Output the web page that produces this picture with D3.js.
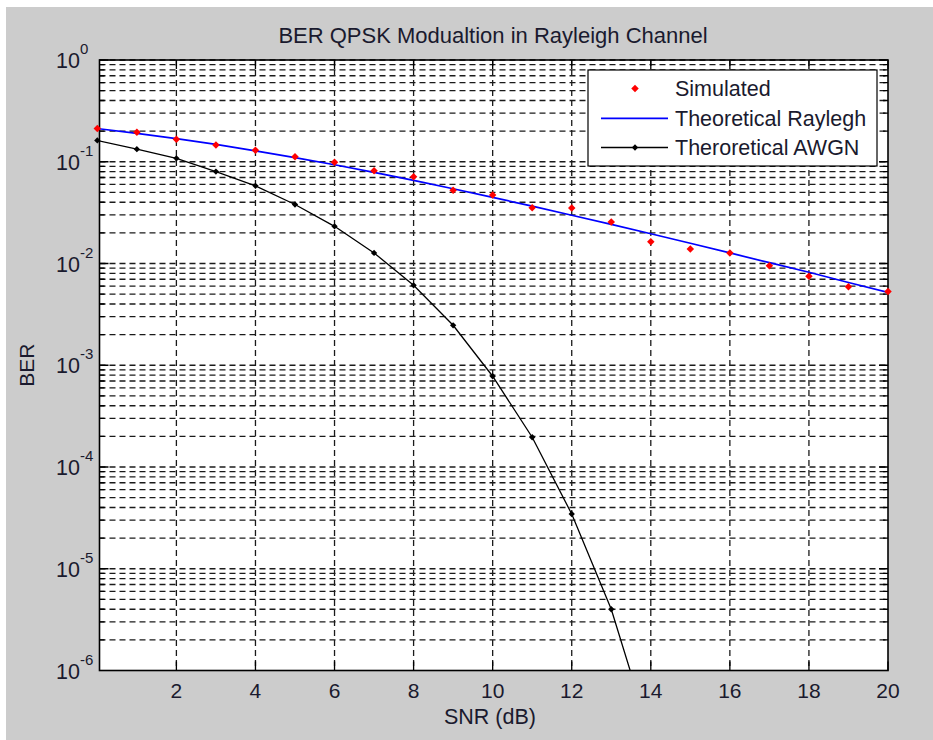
<!DOCTYPE html>
<html>
<head>
<meta charset="utf-8">
<script src="https://cdn.jsdelivr.net/npm/d3@7"></script>
<style>
  body { margin: 0; background: #fff; }
  text { font-family: "Liberation Sans", Arial, sans-serif; fill: #1a1a2e; }
</style>
</head>
<body>
<div id="ber-chart"></div>
<script>
// data
var snr = [0, 1, 2, 3, 4, 5, 6, 7, 8, 9, 10, 11, 12, 13, 14, 15, 16, 17, 18, 19, 20];
var berSimulated = [0.212, 0.195, 0.166, 0.146, 0.130, 0.112, 0.0988, 0.0817, 0.0713, 0.0524, 0.0471,
                    0.0354, 0.0351, 0.0256, 0.0164, 0.0139, 0.0127, 0.0095, 0.0075, 0.0059, 0.0053];
var berRayleigh = [0.212, 0.190, 0.169, 0.148, 0.128, 0.110, 0.0935, 0.0785, 0.0656, 0.0543, 0.0447,
                   0.0366, 0.0298, 0.0242, 0.0196, 0.0158, 0.0127, 0.0102, 0.0082, 0.0065, 0.0052];
var snrAwgn = [0, 1, 2, 3, 4, 5, 6, 7, 8, 9, 10, 11, 12, 13, 14];
var berAwgn = [0.162, 0.133, 0.108, 0.080, 0.058, 0.038, 0.0232, 0.0127, 0.0061, 0.00247,
               0.00078, 0.000196, 0.0000345, 0.0000040, 0.00000022];
var xTicks = [2, 4, 6, 8, 10, 12, 14, 16, 18, 20];
var yExponents = [0, -1, -2, -3, -4, -5, -6];
var legendNames = ["Simulated", "Theoretical Raylegh", "Theroretical AWGN"];

var width = 933, height = 740;
var margin = {top: 60, right: 45, bottom: 69.5, left: 99.5};

var svg = d3.select("#ber-chart")
  .append("svg")
  .attr("width", width)
  .attr("height", height);

// figure background
svg.append("rect").attr("width", width).attr("height", height).attr("fill", "#fff");
svg.append("rect").attr("x", 6).attr("y", 7).attr("width", width - 6).attr("height", height - 7)
  .attr("fill", "#cccccc");

var x = d3.scaleLinear()
  .domain([0.055, 20])
  .range([margin.left, width - margin.right]);

var y = d3.scaleLog()
  .domain([1e-6, 1])
  .range([height - margin.bottom, margin.top]);

var x0 = x.range()[0], x1 = x.range()[1], y0 = y.range()[1], y1 = y.range()[0];

svg.append("rect")
  .attr("x", x0).attr("y", y0)
  .attr("width", x1 - x0).attr("height", y1 - y0)
  .attr("fill", "#fff");

svg.append("clipPath").attr("id", "plot-clip")
  .append("rect")
  .attr("x", x0).attr("y", y0)
  .attr("width", x1 - x0).attr("height", y1 - y0);

// minor + major y values for the log grid
var yGrid = [];
yExponents.forEach(function(e) {
  for (var m = 1; m < 10; m++) {
    var v = m * Math.pow(10, e);
    if (v <= 1 && v > 1e-6) yGrid.push({v: v, major: m == 1});
  }
});

var grid = svg.append("g")
  .attr("stroke", "#1a1a1a")
  .attr("stroke-width", 1.3)
  .attr("stroke-dasharray", "6,4");

grid.selectAll(".hgrid")
  .data(yGrid)
  .join("line")
  .attr("class", "hgrid")
  .attr("x1", x0).attr("x2", x1)
  .attr("y1", d => y(d.v)).attr("y2", d => y(d.v));

grid.selectAll(".vgrid")
  .data(xTicks.filter(d => d < 20))
  .join("line")
  .attr("class", "vgrid")
  .attr("x1", d => x(d)).attr("x2", d => x(d))
  .attr("y1", y0).attr("y2", y1);

// ticks, inside the box on all four sides
var ticks = svg.append("g").attr("stroke", "#000").attr("stroke-width", 1.3);

ticks.selectAll(".xt")
  .data(xTicks)
  .join("path")
  .attr("class", "xt")
  .attr("d", d => `M${x(d)},${y1}v-9M${x(d)},${y0}v9`);

ticks.selectAll(".yt")
  .data(yGrid)
  .join("path")
  .attr("class", "yt")
  .attr("d", function(d) {
    var len = d.major ? 9 : 5;
    return `M${x0},${y(d.v)}h${len}M${x1},${y(d.v)}h${-len}`;
  });

svg.append("rect")
  .attr("x", x0).attr("y", y0)
  .attr("width", x1 - x0).attr("height", y1 - y0)
  .attr("fill", "none")
  .attr("stroke", "#000")
  .attr("stroke-width", 1.6);

// tick labels
svg.selectAll(".xlab")
  .data(xTicks)
  .join("text")
  .attr("class", "xlab")
  .attr("x", d => x(d))
  .attr("y", y1 + 27)
  .attr("text-anchor", "middle")
  .attr("font-size", 21)
  .text(d => d);

var ylab = svg.selectAll(".ylab")
  .data(yExponents)
  .join("text")
  .attr("class", "ylab")
  .attr("x", 56)
  .attr("y", d => y(Math.pow(10, d)) + 8)
  .attr("font-size", 21.5);
ylab.append("tspan").text("10");
ylab.append("tspan")
  .attr("dy", -14)
  .attr("font-size", 15)
  .text(d => d == 0 ? "0" : d);

// titles
svg.append("text")
  .attr("x", 493)
  .attr("y", 43)
  .attr("text-anchor", "middle")
  .attr("font-size", 22)
  .text("BER QPSK Modualtion in Rayleigh Channel");

svg.append("text")
  .attr("x", 490)
  .attr("y", 724)
  .attr("text-anchor", "middle")
  .attr("font-size", 21.5)
  .text("SNR (dB)");

svg.append("text")
  .attr("transform", `translate(34,${(y0 + y1) / 2}) rotate(-90)`)
  .attr("text-anchor", "middle")
  .attr("font-size", 21)
  .text("BER");

// series
var line = d3.line()
  .x(d => x(d[0]))
  .y(d => y(d[1]));

var plot = svg.append("g").attr("clip-path", "url(#plot-clip)");

plot.append("path")
  .datum(d3.zip(snr, berRayleigh))
  .attr("d", line)
  .attr("fill", "none")
  .attr("stroke", "#0000ff")
  .attr("stroke-width", 1.7);

plot.append("path")
  .datum(d3.zip(snrAwgn, berAwgn))
  .attr("d", line)
  .attr("fill", "none")
  .attr("stroke", "#000")
  .attr("stroke-width", 1.3);

// square diamond markers (square turned 45 degrees)
var marker = d3.symbol().type(d3.symbolSquare);

svg.selectAll(".awgn-pt")
  .data(d3.zip(snrAwgn, berAwgn).filter(d => d[1] >= 1e-6))
  .join("path")
  .attr("class", "awgn-pt")
  .attr("transform", d => `translate(${x(d[0])},${y(d[1])}) rotate(45)`)
  .attr("d", marker.size(20)())
  .attr("fill", "#000");

svg.selectAll(".sim-pt")
  .data(d3.zip(snr, berSimulated))
  .join("path")
  .attr("class", "sim-pt")
  .attr("transform", d => `translate(${x(d[0])},${y(d[1])}) rotate(45)`)
  .attr("d", marker.size(28)())
  .attr("fill", "#ff0000");

// legend
var legend = svg.append("g").attr("transform", "translate(588,70)");
legend.append("rect")
  .attr("width", 289).attr("height", 96)
  .attr("fill", "#fff")
  .attr("stroke", "#000")
  .attr("stroke-width", 1.2);

var rowY = [18.5, 48.3, 77.5];
var items = legend.selectAll(".item")
  .data(legendNames)
  .join("g")
  .attr("class", "item")
  .attr("transform", (d, i) => `translate(0,${rowY[i]})`);

items.append("text")
  .attr("x", 87)
  .attr("y", 7.5)
  .attr("font-size", 21.5)
  .text(d => d);

items.filter((d, i) => i > 0).append("line")
  .attr("x1", 13).attr("x2", 80)
  .attr("stroke", (d, i) => i == 0 ? "#0000ff" : "#000")
  .attr("stroke-width", (d, i) => i == 0 ? 1.7 : 1.3);

items.filter((d, i) => i != 1).append("path")
  .attr("transform", "translate(47,0) rotate(45)")
  .attr("d", (d, i) => i == 0 ? marker.size(28)() : marker.size(20)())
  .attr("fill", (d, i) => i == 0 ? "#ff0000" : "#000");
</script>
</body>
</html>
